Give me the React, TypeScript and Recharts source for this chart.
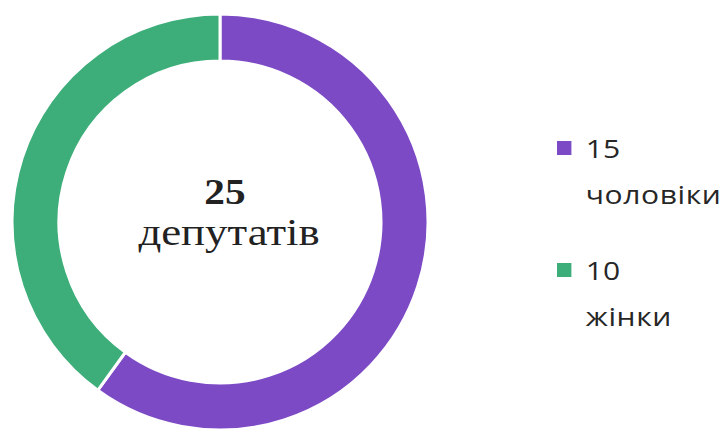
import { PieChart, Pie, Cell, Legend } from 'recharts';

const categories = ['чоловіки', 'жінки'];
const counts = [15, 10];
const colors = ['#7D4AC6', '#3DAE79'];
const total = 25;
const centerCaption = 'депутатів';

const data = categories.map((name, i) => ({ name, value: counts[i] }));

const CX = 220;
const CY = 222;

function LegendList() {
  return (
    <div
      style={{
        fontFamily: "'Open Sans', 'Noto Sans', sans-serif",
        color: '#262626',
        transform: 'scaleX(1.2)',
        transformOrigin: 'left top',
      }}
    >
      {data.map((d, i) => (
        <div key={d.name} style={{ position: 'relative', paddingLeft: 24, marginBottom: i === 0 ? 30 : 0 }}>
          <span
            style={{
              position: 'absolute',
              left: 0,
              top: 16,
              width: 12,
              height: 14,
              background: colors[i],
            }}
          />
          <div style={{ fontSize: 25, lineHeight: '46px' }}>{d.value}</div>
          <div style={{ fontSize: 25, lineHeight: '46px', letterSpacing: 0.5 }}>{d.name}</div>
        </div>
      ))}
    </div>
  );
}

export default function App() {
  return (
    <div style={{ position: 'absolute', left: 0, top: 0, background: '#fff' }}>
      <PieChart width={726} height={431} margin={{ top: 0, right: 0, bottom: 0, left: 0 }}>
        <Pie
          data={data}
          dataKey="value"
          nameKey="name"
          cx={CX}
          cy={CY}
          innerRadius={161}
          outerRadius={208}
          startAngle={90}
          endAngle={-270}
          stroke="#fff"
          strokeWidth={3}
          isAnimationActive={false}
        >
          {data.map((d, i) => (
            <Cell key={d.name} fill={colors[i]} />
          ))}
        </Pie>
        <g fontFamily="'Liberation Serif', 'Times New Roman', serif" fill="#222" textAnchor="middle">
          <text transform={`translate(${CX + 5}, ${CY - 18}) scale(1.18, 1)`} fontSize={35} fontWeight="bold">
            {total}
          </text>
          <text transform={`translate(${CX + 9}, ${CY + 23}) scale(1.18, 1)`} fontSize={38}>
            {centerCaption}
          </text>
        </g>
        <Legend
          content={LegendList}
          wrapperStyle={{ position: 'absolute', left: 557, top: 125, width: 170 }}
        />
      </PieChart>
    </div>
  );
}
